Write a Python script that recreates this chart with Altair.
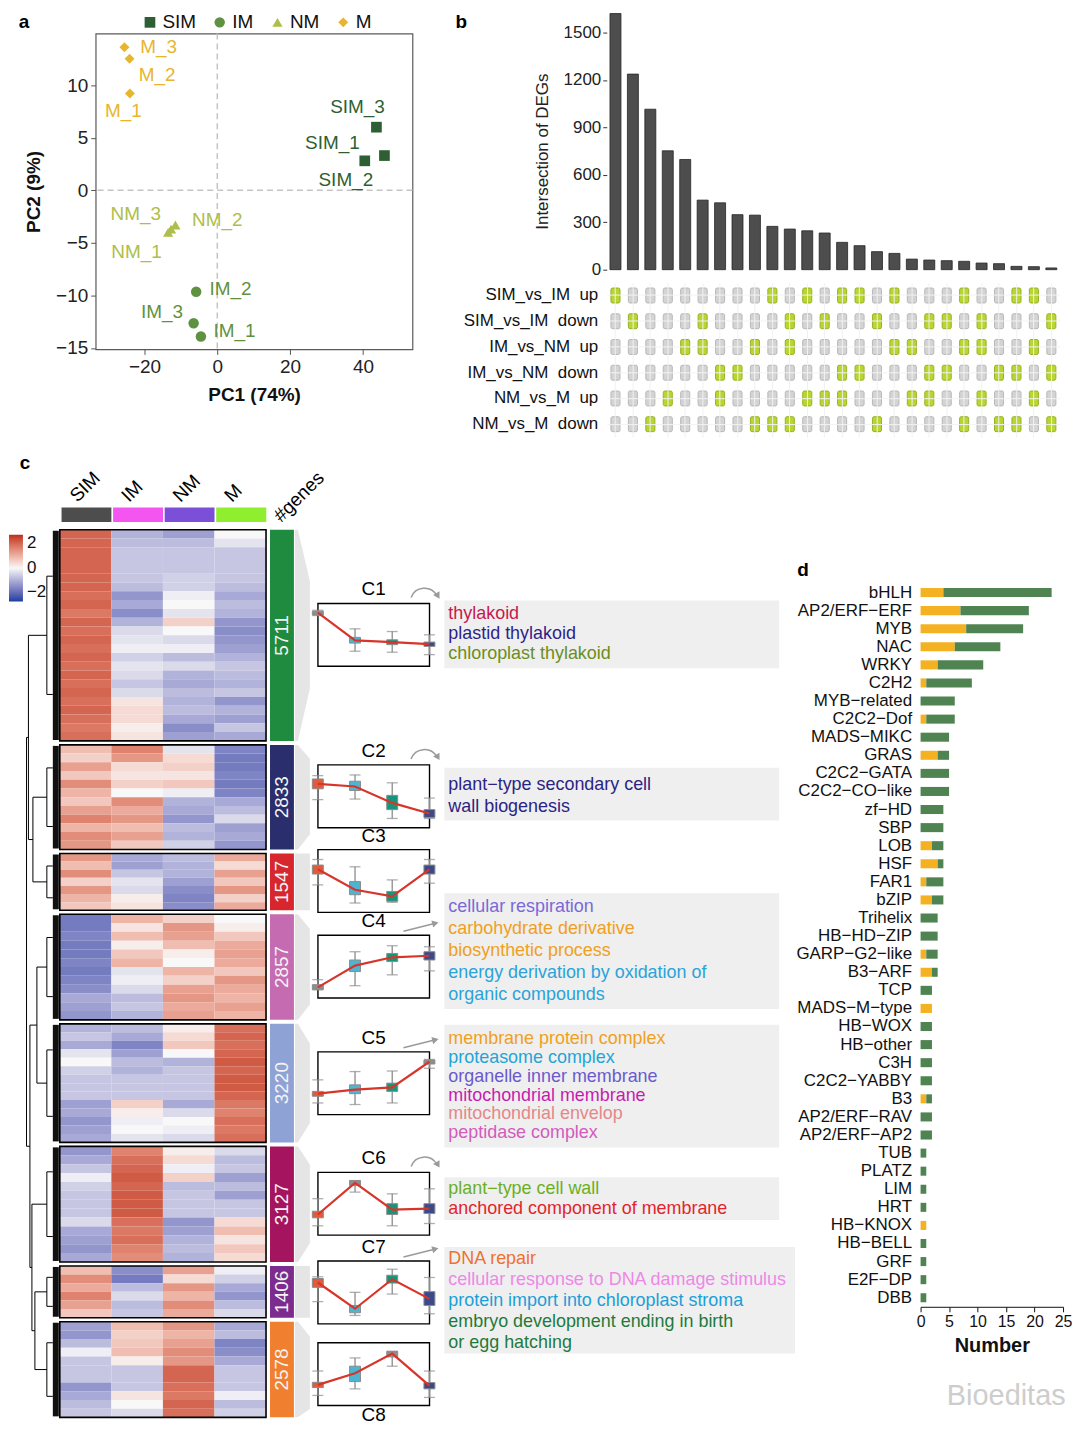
import altair as alt
import pandas as pd

FONT = "Liberation Sans"
GROUPS = ["SIM", "IM", "NM", "M"]

# ---------------- panel a : PCA ----------------
pca_sample = ["SIM_1", "SIM_2", "SIM_3", "IM_1", "IM_2", "IM_3",
              "NM_1", "NM_2", "NM_3", "M_1", "M_2", "M_3"]
pca_group = ["SIM"] * 3 + ["IM"] * 3 + ["NM"] * 3 + ["M"] * 3
pca_pc1 = [45.9, 40.5, 43.7, -4.5, -5.8, -6.5, -13.5, -11.5, -12.7, -24.0, -24.1, -25.5]
pca_pc2 = [3.3, 2.8, 6.0, -13.9, -9.65, -12.65, -4.0, -3.3, -3.7, 9.2, 12.5, 13.6]
pca_label_pc1 = [31.6, 35.3, 38.5, 4.7, 3.6, -15.2, -22.2, 0.0, -22.4, -25.8, -16.5, -16.1]
pca_label_pc2 = [4.5, 1.0, 7.95, -13.35, -9.35, -11.6, -5.9, -2.8, -2.3, 7.5, 11.0, 13.6]
grp_colors = ["#2E5F34", "#5F9240", "#AEBE4A", "#E8B52F"]

# ---------------- panel b : upset ----------------
upset_counts = [1620, 1237, 1015, 752, 697, 440, 423, 348, 345, 274, 257, 246, 232,
                173, 152, 114, 103, 67, 61, 57, 53, 42, 38, 21, 19, 11]
upset_rows = ["SIM_vs_IM \u00a0up", "SIM_vs_IM \u00a0down", "IM_vs_NM \u00a0up",
              "IM_vs_NM \u00a0down", "NM_vs_M \u00a0up", "NM_vs_M \u00a0down"]
upset_sets = [
    [1, 10, 12, 14, 15, 17, 21, 24, 25],
    [2, 6, 11, 13, 16, 19, 20, 22, 26],
    [5, 6, 9, 11, 17, 18, 21, 22, 25],
    [7, 8, 14, 15, 19, 20, 23, 24, 26],
    [4, 7, 12, 13, 14, 18, 19, 22, 25],
    [3, 9, 10, 11, 16, 21, 23, 24, 26],
]

# ---------------- panel c : heatmap clusters ----------------
gene_counts = [5711, 2833, 1547, 2857, 3220, 3127, 1406, 2578]
gene_colors = ["#1E8B3E", "#2A2E6C", "#D7262D", "#C56BB2", "#8EA2D5", "#A5145E", "#7C2B8E", "#F08030"]
strip_colors = ["#4D4D4D", "#F455F0", "#7B4FD8", "#8FEF2E"]

heat_C1 = [[1.5, -0.7, -0.9, 0.0], [1.5, -0.6, -0.6, -0.2], [1.5, -0.5, -0.5, -0.5],
           [1.5, -0.5, -0.5, -0.5], [1.5, -0.5, -0.5, -0.5], [1.5, -0.5, -0.4, -0.5],
           [1.5, -0.6, -0.4, -0.6], [1.4, -1.0, -0.1, -0.8], [1.5, -0.8, 0.0, -0.6],
           [1.3, -1.1, -0.2, -0.7], [1.5, -0.7, 0.4, -1.0], [1.4, -0.3, 0.0, -1.1],
           [1.5, -0.2, -0.3, -1.0], [1.4, -0.1, -0.1, -0.9], [1.5, -0.4, -0.6, -0.7],
           [1.4, -0.2, -0.3, -0.5], [1.5, -0.3, -0.7, -0.6], [1.4, -0.5, -0.8, -0.7],
           [1.5, -0.3, -0.6, -0.5], [1.4, 0.2, -0.7, -1.0], [1.5, 0.3, -0.6, -0.7],
           [1.4, 0.3, -0.8, -0.9], [1.3, 0.1, -1.1, -0.5], [1.4, 0.2, -0.9, -0.8]]
heat_C2 = [[0.6, 1.2, -0.2, -1.2], [0.4, 1.0, 0.3, -1.3], [0.9, 0.3, 0.4, -1.3],
           [0.5, 0.2, 0.2, -1.2], [1.1, 0.4, 0.5, -1.3], [0.7, 0.0, -0.1, -1.2],
           [0.5, 1.1, -0.7, -0.8], [0.9, 0.8, -0.8, -0.6], [1.2, 1.0, -1.0, -0.3],
           [0.7, 0.6, -0.6, -0.9], [1.1, 0.9, -0.7, -0.8], [1.0, 0.5, -0.4, -1.0]]
heat_C3 = [[1.0, -0.8, -0.6, 0.8], [0.6, -0.9, -0.7, 0.3], [1.1, -0.5, -0.7, 0.9],
           [0.4, -0.2, -0.9, 0.5], [1.0, -0.3, -1.1, 1.0], [0.7, 0.1, -1.2, 0.4],
           [0.5, 0.2, -1.1, 0.8]]
heat_C4 = [[-1.3, 0.7, 0.4, 0.0], [-1.3, 0.2, 1.0, 0.1], [-1.2, 0.6, 0.9, 0.5],
           [-1.3, 0.1, 0.6, 0.8], [-1.3, 0.5, 0.1, 0.9], [-1.2, 0.7, 0.0, 0.8],
           [-1.3, -0.2, 0.7, 0.5], [-1.2, -0.1, 0.4, 1.0], [-1.1, -0.3, 0.9, 0.8],
           [-0.8, -0.6, 1.0, 0.7], [-0.9, -0.5, 0.8, 0.9], [-1.0, -0.7, 0.9, 0.7]]
heat_C5 = [[-0.7, -0.6, 0.1, 1.4], [-0.5, -0.8, 0.3, 1.5], [-0.8, -1.2, 0.5, 1.4],
           [-0.2, -0.9, 0.0, 1.5], [0.0, -0.6, -0.7, 1.6], [-0.4, -0.7, -0.5, 1.5],
           [-0.5, -0.5, -0.5, 1.6], [-0.5, -0.5, -0.5, 1.6], [-0.5, -0.5, -0.5, 1.5],
           [-0.9, 0.4, -0.8, 1.3], [-0.8, 0.1, -0.3, 1.2], [-1.0, -0.1, 0.0, 1.4],
           [-0.9, 0.0, -0.1, 1.3], [-0.8, -0.2, -0.3, 1.4]]
heat_C6 = [[-1.0, 1.2, 0.1, -0.3], [-0.8, 1.4, 0.3, -0.6], [-0.5, 1.5, -0.1, -0.5],
           [-0.1, 1.6, 0.4, -0.9], [-0.4, 1.5, -0.6, -0.6], [-0.5, 1.6, -0.5, -0.9],
           [-0.5, 1.6, -0.5, -0.5], [-0.5, 1.6, -0.5, -0.5], [-0.3, 1.4, -1.0, 0.3],
           [-0.8, 1.3, -0.9, 0.6], [-0.9, 1.4, -0.7, 0.2], [-1.0, 1.2, -0.6, 0.5],
           [-0.8, 1.1, -0.7, 0.3]]
heat_C7 = [[0.6, -1.1, 0.9, -0.1], [1.1, -1.3, 0.3, -0.4], [0.8, -0.6, 1.0, -0.8],
           [1.2, -0.3, 0.7, -1.0], [0.9, -0.6, 1.1, -0.6], [0.5, -0.5, 0.8, -0.3]]
heat_C8 = [[-0.9, 0.6, 1.0, -0.8], [-1.0, 0.4, 0.7, -0.6], [-0.6, 0.5, 0.9, -1.2],
           [-0.1, 0.6, 1.1, -1.1], [-0.5, 0.1, 1.0, -0.8], [-0.5, -0.5, 1.5, -0.5],
           [-0.5, -0.5, 1.5, -0.5], [-1.0, -0.5, 1.4, -0.5], [-0.8, 0.2, 1.3, -0.1],
           [-0.6, 0.0, 1.5, -0.6], [-0.5, -0.3, 1.4, -0.4]]
heat_all = [heat_C1, heat_C2, heat_C3, heat_C4, heat_C5, heat_C6, heat_C7, heat_C8]

# cluster profiles (z-score): mean, box (q1,q3), whiskers (lo,hi) for SIM, IM, NM, M
mini_mean = [[1.55, -0.39, -0.51, -0.65], [0.87, 0.68, -0.47, -1.21], [0.81, -0.62, -1.09, 0.81],
             [-1.46, 0.07, 0.65, 0.76], [-0.74, -0.46, -0.30, 1.50], [-0.76, 1.46, -0.42, -0.35],
             [0.69, -1.15, 0.92, -0.46], [-0.76, 0.05, 1.43, -0.81]]
mini_q3 = [[1.66, -0.18, -0.35, -0.51], [1.21, 1.05, 0.06, -0.94], [1.11, -0.05, -0.74, 1.11],
           [-1.27, 0.46, 0.92, 1.04], [-0.58, -0.12, 0.00, 1.62], [-0.53, 1.62, 0.00, 0.00],
           [0.97, -0.92, 1.20, 0.05], [-0.58, 0.55, 1.59, -0.60]]
mini_q1 = [[1.39, -0.58, -0.69, -0.81], [0.52, 0.40, -0.94, -1.49], [0.48, -0.97, -1.43, 0.48],
           [-1.62, -0.35, 0.35, 0.46], [-0.92, -0.74, -0.58, 1.34], [-0.99, 1.27, -0.76, -0.69],
           [0.35, -1.43, 0.65, -0.92], [-0.95, -0.53, 1.20, -1.04]]
mini_hi = [[1.72, 0.42, 0.23, 0.00], [1.44, 1.49, 0.94, -0.13], [1.50, 0.99, 0.07, 1.50],
           [-0.92, 1.04, 1.46, 1.39], [0.23, 0.81, 0.85, 1.66], [0.35, 1.62, 0.69, 1.04],
           [1.09, 0.00, 1.62, 1.04], [0.21, 1.13, 1.59, 0.21]]
mini_lo = [[1.35, -1.15, -1.22, -1.39], [-0.24, -0.20, -1.56, -1.56], [-0.28, -1.55, -1.50, -0.16],
           [-1.62, -1.34, -0.58, -0.30], [-1.39, -1.50, -1.39, 1.04], [-1.55, 0.81, -1.55, -1.39],
           [-0.65, -1.62, -0.12, -1.50], [-1.50, -1.04, 0.55, -1.64]]
box_colors = ["#E05A3B", "#4CB5D3", "#17957B", "#3A4A8B"]

go_terms = {
    0: ["thylakoid", "plastid thylakoid", "chloroplast thylakoid"],
    1: ["plant\u2212type secondary cell", "wall biogenesis"],
    3: ["cellular respiration", "carbohydrate derivative", "biosynthetic process",
        "energy derivation by oxidation of", "organic compounds"],
    4: ["membrane protein complex", "proteasome complex", "organelle inner membrane",
        "mitochondrial membrane", "mitochondrial envelop", "peptidase complex"],
    5: ["plant\u2212type cell wall", "anchored component of membrane"],
    6: ["DNA repair", "cellular response to DNA damage stimulus",
        "protein import into chloroplast stroma", "embryo development ending in birth",
        "or egg hatching"],
}
go_colors = {
    0: ["#C8174E", "#2E1F8A", "#6B8E1E"],
    1: ["#2A2485", "#2A2485"],
    3: ["#7B68D8", "#F0A020", "#F0A020", "#2AA3D9", "#2AA3D9"],
    4: ["#F0A020", "#1FA5D6", "#6A5ACD", "#C71BB0", "#E4878A", "#D25BBE"],
    5: ["#6BAF1E", "#E3242B"],
    6: ["#F07030", "#EE88E8", "#1AA0D8", "#1E7A3C", "#1E7A3C"],
}

# ---------------- panel d : TF families ----------------
tf_names = ["bHLH", "AP2/ERF\u2212ERF", "MYB", "NAC", "WRKY", "C2H2", "MYB\u2212related",
            "C2C2\u2212Dof", "MADS\u2212MIKC", "GRAS", "C2C2\u2212GATA", "C2C2\u2212CO\u2212like",
            "zf\u2212HD", "SBP", "LOB", "HSF", "FAR1", "bZIP", "Trihelix", "HB\u2212HD\u2212ZIP",
            "GARP\u2212G2\u2212like", "B3\u2212ARF", "TCP", "MADS\u2212M\u2212type", "HB\u2212WOX",
            "HB\u2212other", "C3H", "C2C2\u2212YABBY", "B3", "AP2/ERF\u2212RAV", "AP2/ERF\u2212AP2",
            "TUB", "PLATZ", "LIM", "HRT", "HB\u2212KNOX", "HB\u2212BELL", "GRF", "E2F\u2212DP", "DBB"]
tf_orange = [4, 7, 8, 6, 3, 1, 0, 1, 0, 3, 0, 0, 0, 0, 2, 3, 1, 2, 0, 0,
             1, 2, 0, 2, 0, 0, 0, 0, 1, 0, 0, 0, 0, 0, 0, 1, 0, 0, 0, 0]
tf_green = [19, 12, 10, 8, 8, 8, 6, 5, 5, 2, 5, 5, 4, 4, 2, 1, 3, 2, 3, 3,
            2, 1, 2, 0, 2, 2, 2, 2, 1, 2, 2, 1, 1, 1, 1, 0, 1, 1, 1, 1]

# ================= helpers =================
ONE = pd.DataFrame({"z": [0]})


def anchor(x0, y0, x1, y1):
    # invisible segment fixing the layout bounds of a panel
    return alt.Chart(ONE).mark_rule(strokeOpacity=0, strokeWidth=0, color="white").encode(
        x=alt.value(x0), x2=alt.value(x1), y=alt.value(y0), y2=alt.value(y1))


def spacer(w, h):
    return anchor(0, 0, 0, 0).properties(width=w, height=h)


def R(c):
    return c.resolve_scale(color="independent", shape="independent", size="independent",
                           stroke="independent", fill="independent")


def label(txt, x, y, size=19, bold=True, **kw):
    return alt.Chart(ONE).mark_text(text=txt, fontSize=size,
                                    fontWeight="bold" if bold else "normal",
                                    baseline="middle", **kw).encode(x=alt.value(x), y=alt.value(y))


# ================= panel a =================
pca_df = pd.DataFrame({"sample": pca_sample, "group": pca_group, "pc1": pca_pc1,
                       "pc2": pca_pc2, "lx": pca_label_pc1, "ly": pca_label_pc2})
xA = alt.Scale(domain=[-33.4, 53.6], nice=False, zero=False)
yA = alt.Scale(domain=[-15.13, 14.9], nice=False, zero=False)
axA_x = alt.Axis(values=[-20, 0, 20, 40], title="PC1 (74%)", titleFontSize=19, titleFontWeight="bold",
                 labelFontSize=19, tickSize=5, tickColor="#555", domain=False, grid=False,
                 labelColor="#222", titleColor="#111", labelPadding=3, titlePadding=9)
axA_y = alt.Axis(values=[-15, -10, -5, 0, 5, 10], title="PC2 (9%)", titleFontSize=19,
                 titleFontWeight="bold", labelFontSize=19, tickSize=5, tickColor="#555",
                 domain=False, grid=False, labelColor="#222", titleColor="#111",
                 labelPadding=3, titlePadding=12)
legA = alt.Legend(title=None, orient="none", direction="horizontal", legendX=45, legendY=-21,
                  labelFontSize=19, symbolSize=120, columnPadding=14, labelOffset=3,
                  symbolStrokeWidth=0, padding=0, labelColor="#111")
colA = alt.Color("group:N", scale=alt.Scale(domain=GROUPS, range=grp_colors), legend=legA)
shpA = alt.Shape("group:N", scale=alt.Scale(domain=GROUPS,
                                            range=["square", "circle", "triangle-up", "diamond"]),
                 legend=legA)
zero_df = pd.DataFrame({"v": [0.0]})
vrule = alt.Chart(zero_df).mark_rule(color="#C4C4C4", strokeDash=[6, 4], strokeWidth=1.5).encode(
    x=alt.X("v:Q", scale=xA, axis=axA_x))
hrule = alt.Chart(zero_df).mark_rule(color="#C4C4C4", strokeDash=[6, 4], strokeWidth=1.5).encode(
    y=alt.Y("v:Q", scale=yA, axis=axA_y))
pts = alt.Chart(pca_df).mark_point(filled=True, opacity=1).encode(
    x=alt.X("pc1:Q", scale=xA, axis=axA_x), y=alt.Y("pc2:Q", scale=yA, axis=axA_y),
    color=colA, shape=shpA,
    size=alt.Size("group:N", scale=alt.Scale(domain=GROUPS, range=[115, 100, 170, 60]), legend=None))
labs = alt.Chart(pca_df).mark_text(fontSize=19).encode(
    x=alt.X("lx:Q", scale=xA, axis=axA_x), y=alt.Y("ly:Q", scale=yA, axis=axA_y),
    text="sample:N", color=colA)
panelA = alt.layer(vrule, hrule, pts, labs, label("a", -72, -12),
                   anchor(-86, -22, 355, 0)).properties(
    width=318, height=317, view=alt.ViewBackground(stroke="#5A5A5A", strokeWidth=1.2))

# header of panel c (group strip + column labels), placed under panel a
hdr_df = pd.DataFrame({"g": GROUPS, "i": [0, 1, 2, 3], "c": strip_colors})
hdr_df["i1"] = hdr_df["i"] + 1
hdr_df["li"] = hdr_df["i"] + 0.24
hx = alt.Scale(domain=[0, 4], range=[-35, 172], nice=False, zero=False)
strip = alt.Chart(hdr_df).mark_rect(stroke="white", strokeWidth=1.5).encode(
    x=alt.X("i:Q", scale=hx, axis=None), x2="i1:Q", y=alt.value(0), y2=alt.value(16),
    color=alt.Color("c:N", scale=None))
hdr_lbl = alt.Chart(hdr_df).mark_text(angle=315, align="left", baseline="middle", fontSize=19).encode(
    x=alt.X("li:Q", scale=hx, axis=None), y=alt.value(-8), text="g:N")
header = alt.layer(strip, hdr_lbl,
                   label("#genes", 182, 12, bold=False, angle=315, align="left"),
                   label("c", -71, -44),
                   anchor(0, 0, 0, 20)).properties(width=318, height=16)

A_col = R(alt.vconcat(spacer(318, 22), panelA, spacer(318, 158), header, spacing=0, bounds="flush"))

# ================= panel b =================
bar_df = pd.DataFrame({"col": list(range(1, 27)), "n": upset_counts})
bars = alt.Chart(bar_df).mark_bar(color="#4D4D4D", stroke="#262626", strokeWidth=0.8).encode(
    x=alt.X("col:O", scale=alt.Scale(paddingInner=0.37, paddingOuter=0.185), axis=None),
    y=alt.Y("n:Q", scale=alt.Scale(domain=[0, 1632], nice=False),
            axis=alt.Axis(values=[0, 300, 600, 900, 1200, 1500], format="d",
                          title="Intersection of DEGs",
                          titleFontSize=17, titleFontWeight="normal", labelFontSize=17,
                          tickSize=4, tickColor="#333", domain=False, grid=False,
                          labelColor="#222", titleColor="#222", titlePadding=12,
                          labelPadding=2, titleY=140)))
barsB = alt.layer(bars, label("b", -146, 10), anchor(-157, 0, 0, 0)).properties(width=455, height=259)

mat_recs = []
for lab, s in zip(upset_rows, upset_sets):
    for c in range(1, 27):
        mat_recs.append({"col": c, "row": lab, "on": "yes" if c in s else "no"})
mat_df = pd.DataFrame(mat_recs)
matrix = alt.Chart(mat_df).mark_rect(cornerRadius=1.5, strokeWidth=1).encode(
    x=alt.X("col:O", scale=alt.Scale(paddingInner=0.48, paddingOuter=0.24),
            axis=alt.Axis(labels=False, ticks=False, domain=False, title=None, grid=True,
                          gridColor="#F1F1F1", bandPosition=0.5)),
    y=alt.Y("row:N", sort=upset_rows, scale=alt.Scale(paddingInner=0.42, paddingOuter=0.21),
            axis=alt.Axis(title=None, labelFontSize=17, ticks=False, domain=False, grid=True,
                          gridColor="#F3F3F3", bandPosition=0.5, labelPadding=9,
                          labelColor="#111")),
    color=alt.Color("on:N", scale=alt.Scale(domain=["yes", "no"], range=["#B9D532", "#D4D4D4"]),
                    legend=None),
    stroke=alt.Stroke("on:N", scale=alt.Scale(domain=["yes", "no"], range=["#98B225", "#B8B8B8"]),
                      legend=None),
).properties(width=455, height=155)
B_col = R(alt.vconcat(barsB, matrix, spacing=13, bounds="flush"))

# ================= panel c =================
K = 0.03705
heat_h = [round(c * K) for c in gene_counts]
tops = []
yy = 0
for h in heat_h:
    tops.append(yy)
    yy += h + 4
TOTAL_H = yy - 4
dy_s = alt.Scale(domain=[0, TOTAL_H], reverse=True, nice=False, zero=False)

heat_scale = alt.Scale(domain=[-2, 0, 2], range=["#1640A0", "#F8F8F8", "#BD2A1E"], clamp=True)

# heatmap cells: block k occupies a band proportional to its number of genes
cell_recs = []
for k, rows in enumerate(heat_all):
    step = heat_h[k] / len(rows)
    for i, row in enumerate(rows):
        for g, v in zip(GROUPS, row):
            cell_recs.append({"g": g, "v": v, "y0": tops[k] + i * step, "y1": tops[k] + (i + 1) * step})
cell_df = pd.DataFrame(cell_recs)
clu_df = pd.DataFrame({"k": list(range(8)), "n": [str(c) for c in gene_counts], "col": gene_colors,
                       "top": tops, "bot": [t + h for t, h in zip(tops, heat_h)]})
clu_df["mid"] = (clu_df["top"] + clu_df["bot"]) / 2

heat_all_chart = alt.layer(
    alt.Chart(cell_df).mark_rect(strokeWidth=0).encode(
        x=alt.X("g:N", sort=GROUPS, scale=alt.Scale(paddingInner=0, paddingOuter=0), axis=None),
        y=alt.Y("y0:Q", scale=dy_s, axis=None), y2="y1:Q",
        color=alt.Color("v:Q", scale=heat_scale, legend=None)),
    alt.Chart(clu_df).mark_rect(fillOpacity=0, stroke="black", strokeWidth=1.6).encode(
        x=alt.value(0), x2=alt.value(207), y=alt.Y("top:Q", scale=dy_s, axis=None), y2="bot:Q"),
    anchor(-1, -3, 209, 0),
).properties(width=207, height=TOTAL_H)

gene_all_chart = alt.layer(
    alt.Chart(clu_df).mark_rect().encode(
        x=alt.value(0), x2=alt.value(24), y=alt.Y("top:Q", scale=dy_s, axis=None), y2="bot:Q",
        color=alt.Color("col:N", scale=None)),
    alt.Chart(clu_df).mark_text(angle=270, fontSize=19, color="#F4F4F4", baseline="middle").encode(
        x=alt.value(12), y=alt.Y("mid:Q", scale=dy_s, axis=None), text="n:N"),
    anchor(-2, 0, 24, 0),
).properties(width=24, height=TOTAL_H)

# mini-plot frame positions (relative to the top of the first heatmap block)
MINI_H = 63
mini_gaps = [74, 99, 22, 23, 54, 58, 26, 19]
frames = []
f = 0
for g in mini_gaps:
    f += g
    frames.append((f, f + MINI_H))
    f += MINI_H

conn_recs = []
for k in range(8):
    t, b = tops[k], tops[k] + heat_h[k]
    ft, fb = frames[k]
    tr = t + 0.7 * (ft - t) if ft > t else t
    br = b + 0.7 * (fb - b) if fb < b else b
    conn_recs += [{"k": k, "x": 1, "y": t, "y2": b}, {"k": k, "x": 4, "y": t, "y2": b},
                  {"k": k, "x": 16, "y": tr, "y2": br}]
conn_df = pd.DataFrame(conn_recs)
conn_chart = alt.Chart(conn_df).mark_area(color="#E5E5E5").encode(
    x=alt.X("x:Q", scale=alt.Scale(domain=[0, 17], nice=False, zero=False), axis=None),
    y=alt.Y("y:Q", scale=dy_s, axis=None), y2="y2:Q", detail="k:N",
).properties(width=17, height=TOTAL_H)

# dendrogram built from cluster positions and merge order
centers = [t + h / 2 for t, h in zip(tops, heat_h)]
LEAF_X = 21
segs, leaves = [], []
for t, h in zip(tops, heat_h):
    a, b = t + 0.22 * h, t + h - 0.22 * h
    segs += [(LEAF_X, LEAF_X, a, b), (LEAF_X, 27, a, a), (LEAF_X, 27, b, b)]
    leaves.append((27, 33, t + 1, t + h - 1))
nodes = {k: (LEAF_X, c) for k, c in enumerate(centers)}
merges = [((1, 2), 7, "m1"), ((0, "m1"), 2.5, "m2"), ((3, 4), 11, "m3"), ((6, 7), 9, "m4"),
          ((5, "m4"), 6, "m5"), (("m3", "m5"), 4, "m6"), (("m2", "m6"), 0.6, "root")]
for (a, b), xm, name in merges:
    xa, ya = nodes[a]
    xb, yb = nodes[b]
    segs += [(xm, xm, ya, yb), (xm, xa, ya, ya), (xm, xb, yb, yb)]
    nodes[name] = (xm, (ya + yb) / 2)
seg_df = pd.DataFrame(segs, columns=["x", "x2", "y", "y2"])
leaf_df = pd.DataFrame(leaves, columns=["x", "x2", "y", "y2"])
dx_s = alt.Scale(domain=[0, 33], nice=False, zero=False)
legend_df = pd.DataFrame({"v": [-2.0, 2.0]})
heat_legend = alt.Legend(orient="none", legendX=-17, legendY=5, title=None, gradientLength=67,
                         gradientThickness=14, values=[-2, 0, 2], labelFontSize=17,
                         direction="vertical", padding=0, labelOffset=4, labelColor="#111")
dendro = alt.layer(
    alt.Chart(seg_df).mark_rule(color="black", strokeWidth=1).encode(
        x=alt.X("x:Q", scale=dx_s, axis=None), x2="x2:Q",
        y=alt.Y("y:Q", scale=dy_s, axis=None), y2="y2:Q"),
    alt.Chart(leaf_df).mark_rect(color="#111").encode(
        x=alt.X("x:Q", scale=dx_s, axis=None), x2="x2:Q",
        y=alt.Y("y:Q", scale=dy_s, axis=None), y2="y2:Q"),
    alt.Chart(legend_df).mark_point(opacity=0, size=1, strokeWidth=0).encode(
        x=alt.value(10), y=alt.value(10), color=alt.Color("v:Q", scale=heat_scale, legend=heat_legend)),
    anchor(-17, -3, 0, 0),
).properties(width=33, height=TOTAL_H)

# mini profile plots
GRAYW = "#8C8C8C"
ARROW = "#9A9A9A"
curved = {0, 1, 5}
straight = {3, 4, 6}


def mini_chart(k):
    d = pd.DataFrame({"g": GROUPS, "mean": mini_mean[k], "q1": mini_q1[k], "q3": mini_q3[k],
                      "lo": mini_lo[k], "hi": mini_hi[k]})
    d["box"] = [GRAYW if abs(m) > 1.4 else c for m, c in zip(d["mean"], box_colors)]
    X = alt.X("g:N", sort=GROUPS, scale=alt.Scale(type="point", padding=0), axis=None)
    ys = alt.Scale(domain=[-2.2, 2.2], nice=False, zero=False)
    base = alt.Chart(d)
    layers = [
        base.mark_rule(color=GRAYW, strokeWidth=1.3).encode(
            x=X, y=alt.Y("lo:Q", scale=ys, axis=None), y2="hi:Q"),
        base.mark_tick(color=GRAYW, size=11, thickness=1.3).encode(
            x=X, y=alt.Y("lo:Q", scale=ys, axis=None)),
        base.mark_tick(color=GRAYW, size=11, thickness=1.3).encode(
            x=X, y=alt.Y("hi:Q", scale=ys, axis=None)),
        base.mark_bar(size=11, stroke=GRAYW, strokeWidth=1).encode(
            x=X, y=alt.Y("q1:Q", scale=ys, axis=None), y2="q3:Q",
            color=alt.Color("box:N", scale=None)),
        base.mark_line(color="#D8352A", strokeWidth=2.2).encode(
            x=X, y=alt.Y("mean:Q", scale=ys, axis=None)),
        label("C%d" % (k + 1), 56, -14 if k < 7 else MINI_H + 10, bold=False, align="center"),
    ]
    if k in curved:
        layers.append(alt.Chart(ONE).mark_arc(radius=15, radius2=13.5, theta=5.06, theta2=7.33,
                                              color=ARROW).encode(
            x=alt.value(107), y=alt.value(-1)))
        layers.append(alt.Chart(ONE).mark_point(shape="triangle-up", filled=True, size=55,
                                                angle=150, color=ARROW, opacity=1).encode(
            x=alt.value(120.5), y=alt.value(-7.5)))
    if k in straight:
        layers.append(alt.Chart(ONE).mark_rule(color=ARROW, strokeWidth=1.5).encode(
            x=alt.value(86), x2=alt.value(116), y=alt.value(-4), y2=alt.value(-11.5)))
        layers.append(alt.Chart(ONE).mark_point(shape="triangle-up", filled=True, size=55,
                                                angle=76, color=ARROW, opacity=1).encode(
            x=alt.value(118), y=alt.value(-12)))
    if k == 0:
        layers.append(anchor(-6, 0, 126, 0))
    return alt.layer(*layers).properties(width=112, height=MINI_H,
                                         view=alt.ViewBackground(stroke="black", strokeWidth=1.4))


mid_items = []
for k in range(8):
    mid_items += [spacer(112, mini_gaps[k]), mini_chart(k)]
minicol = R(alt.vconcat(*mid_items, spacing=0, bounds="flush"))

# GO term boxes: (cluster, gap above, height, first line y, line step, width)
box_layout = [(0, 71, 68, 14, 20, 336), (1, 100, 53, 17, 22, 336), (3, 73, 116, 14, 22, 336),
              (4, 16, 123, 14, 19, 336), (5, 30, 43, 12, 20, 336), (6, 27, 107, 12, 21, 352)]


def text_box(k, h, y0, step, w):
    d = pd.DataFrame({"t": go_terms[k], "c": go_colors[k]})
    d["ypx"] = [y0 + i * step for i in range(len(d))]
    return alt.Chart(d).mark_text(align="left", baseline="middle", fontSize=18).encode(
        x=alt.value(4),
        y=alt.Y("ypx:Q", scale=alt.Scale(domain=[0, h], reverse=True, nice=False, zero=False),
                axis=None),
        text="t:N", color=alt.Color("c:N", scale=None),
    ).properties(width=w, height=h, view=alt.ViewBackground(fill="#EFEFEF", strokeWidth=0))


txt_items = []
for k, gap, h, y0, step, w in box_layout:
    txt_items += [spacer(336, gap), text_box(k, h, y0, step, w)]
textcol = R(alt.vconcat(*txt_items, spacing=0, bounds="flush"))

# ================= panel d =================
tf_recs = []
for n, o, g in zip(tf_names, tf_orange, tf_green):
    tf_recs.append({"name": n, "type": "t1", "value": o, "ord": 0})
    tf_recs.append({"name": n, "type": "t2", "value": g, "ord": 1})
tf_df = pd.DataFrame(tf_recs)
tf_bars = alt.Chart(tf_df).mark_bar().encode(
    y=alt.Y("name:N", sort=tf_names, scale=alt.Scale(paddingInner=0.5, paddingOuter=0.25),
            axis=alt.Axis(title=None, labelFontSize=17, ticks=False, domain=False,
                          labelPadding=9, labelColor="#111")),
    x=alt.X("value:Q", stack="zero", scale=alt.Scale(domain=[0, 25], nice=False),
            axis=alt.Axis(values=[0, 5, 10, 15, 20, 25], title="Number", titleFontSize=20,
                          titleFontWeight="bold", labelFontSize=16, tickSize=5, labelFlush=False,
                          labelOverlap=False,
                          domainColor="#111", tickColor="#111", grid=False, labelColor="#111",
                          titleColor="#111", labelPadding=2, titlePadding=6)),
    color=alt.Color("type:N", scale=alt.Scale(domain=["t1", "t2"], range=["#F4B223", "#4F8452"]),
                    legend=None),
    order=alt.Order("ord:Q"),
)
panelD = alt.layer(
    tf_bars, label("d", -118, -14, align="center"),
    alt.Chart(ONE).mark_text(text="Bioeditas", fontSize=29, color="#CDCDCD", baseline="middle",
                             align="center").encode(x=alt.value(86), y=alt.value(816)),
    anchor(-124, 0, 0, 0),
).properties(width=143, height=726)
D_col = R(alt.vconcat(spacer(143, 54), panelD, spacing=0, bounds="flush"))

# ================= layout =================
top = R(alt.hconcat(spacer(1, 1), A_col, B_col, spacing=0))
bottom = R(alt.hconcat(spacer(1, 1), dendro, heat_all_chart, gene_all_chart, conn_chart,
                       minicol, textcol, D_col, spacing=0))

chart = R(alt.vconcat(top, bottom, spacing=0)).properties(
    padding=0, background="white"
).configure(font=FONT).configure_view(strokeWidth=0).configure_axis(
    labelFont=FONT, titleFont=FONT).configure_legend(labelFont=FONT).configure_text(font=FONT)

chart.save("out.html", embed_options={"renderer": "svg", "actions": False})
